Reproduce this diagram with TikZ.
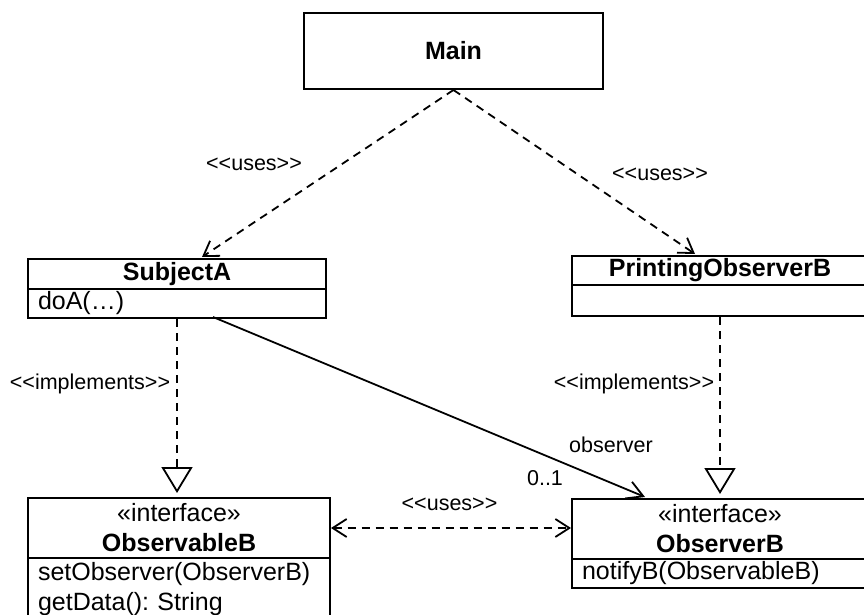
\documentclass[tikz,border=0pt]{standalone}
\usepackage{fontspec}
\setmainfont{Liberation Sans}
\usetikzlibrary{arrows.meta}
\frenchspacing
\newcommand{\stLeft}{<\kern0pt<}
\newcommand{\stRight}{>\kern0pt>}
\begin{document}
\begin{tikzpicture}[x=1pt,y=-1pt,
  box/.style={draw, line width=2pt, fill=white, inner sep=0pt, anchor=north west,
    font=\fontsize{25}{30}\selectfont},
  head/.style={box, align=center, font=\fontsize{25}{30}\selectfont\bfseries},
  ops/.style={box, align=left, inner xsep=10pt, inner ysep=0pt},
  lbl/.style={inner sep=0pt, anchor=base, font=\fontsize{21.5}{26}\selectfont},
  dashline/.style={line width=1.8pt, dash pattern=on 8pt off 6pt},
  openarrow/.style={-{Straight Barb[length=14pt,width=18pt]}},
  realize/.style={dashline, -{Triangle[open,length=26pt,width=31pt]}},
  assoc/.style={line width=1.8pt, -{Straight Barb[length=16pt,width=18pt]}}
]
\useasboundingbox (0,0) rectangle (864,615);
\clip (0,0) rectangle (864,615);

% Main
\node[head, minimum width=299pt, minimum height=76pt] (main) at (303,12) {Main};

% SubjectA
\node[head, minimum width=298pt, minimum height=30pt] (sa) at (27,258) {SubjectA};
\node[ops, minimum width=298pt, text width=278pt, minimum height=29pt] (saops) at (27,288) {doA(…)};

% PrintingObserverB
\node[head, minimum width=296pt, minimum height=29pt] (po) at (571,255) {PrintingObserverB};
\node[ops, minimum width=296pt, text width=276pt, minimum height=31pt] (poops) at (571,284) {};

% ObservableB
\node[head, minimum width=302pt, minimum height=60pt] (obh) at (27,497) {\mdseries «interface»\\ObservableB};
\node[ops, minimum width=302pt, text width=282pt, minimum height=62pt] (obops) at (27,557) {setObserver(ObserverB)\\getData(): String};

% ObserverB
\node[head, minimum width=296pt, minimum height=60pt] (obsh) at (571,498) {\mdseries «interface»\\ObserverB};
\node[ops, minimum width=296pt, text width=276pt, minimum height=29pt] (obsops) at (571,558) {notifyB(ObservableB)};

% coordinates
\coordinate (saIn) at (202,257);
\coordinate (poIn) at (695,254);
\coordinate (obTop) at ([yshift=4pt]obh.north);
\coordinate (obsTop) at ([yshift=4pt]obsh.north);
\coordinate (asS) at (213,317);
\coordinate (asE) at (645,497);

% connectors
\draw[dashline, openarrow] (main.south) -- (saIn);
\draw[dashline, openarrow] (main.south) -- (poIn);
\draw[realize] (saops.south) -- (saops.south |- obTop);
\draw[realize] (poops.south) -- (poops.south |- obsTop);
\draw[assoc] (asS) -- (asE);
\draw[dashline, {Straight Barb[length=14pt,width=18pt]}-{Straight Barb[length=14pt,width=18pt]}]
  (obh.east) -- (obh.east -| obsh.west);

% labels
\node[lbl] (u1) at (254,170.7) {\stLeft uses\stRight};
\node[lbl] (u2) at (660,180) {\stLeft uses\stRight};
\node[lbl] (i1) at (90,389.5) {\stLeft implements\stRight};
\node[lbl] (i2) at (634,389.5) {\stLeft implements\stRight};
\node[lbl] (obsl) at (611,452.7) {observer};
\node[lbl] (mult) at (545,485.7) {0..1};
\node[lbl] (u3) at (449.5,510.7) {\stLeft uses\stRight};
\end{tikzpicture}
\end{document}
